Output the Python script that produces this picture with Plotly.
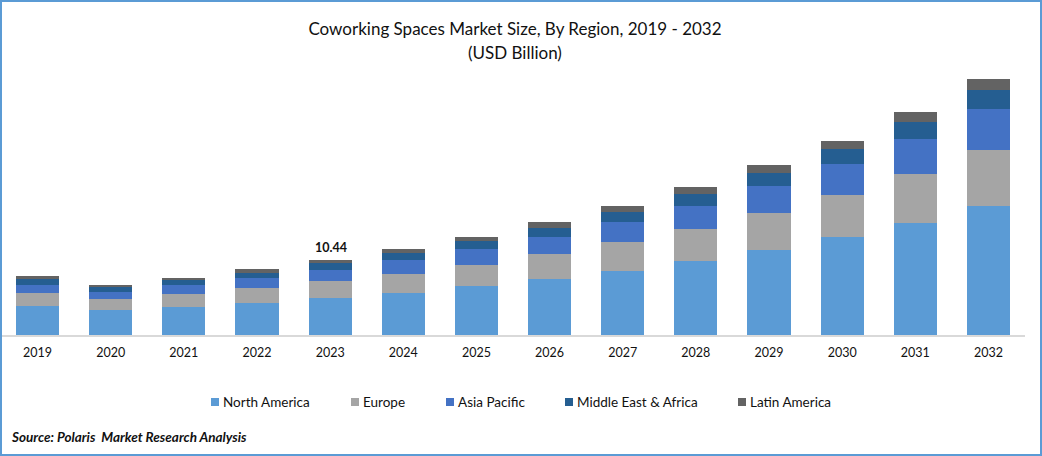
import plotly.graph_objects as go

years = ['2019', '2020', '2021', '2022', '2023', '2024', '2025', '2026', '2027', '2028', '2029', '2030', '2031', '2032']

north_america = [4.04, 3.48, 3.90, 4.45, 5.15, 5.85, 6.82, 7.80, 8.91, 10.30, 11.83, 13.64, 15.59, 17.96]
europe = [1.81, 1.53, 1.81, 2.09, 2.37, 2.64, 2.92, 3.48, 4.04, 4.45, 5.15, 5.85, 6.82, 7.80]
asia_pacific = [1.11, 0.97, 1.25, 1.39, 1.53, 1.95, 2.23, 2.37, 2.78, 3.20, 3.76, 4.32, 4.87, 5.71]
middle_east_africa = [0.84, 0.70, 0.70, 0.70, 0.97, 0.97, 1.11, 1.25, 1.39, 1.67, 1.81, 2.09, 2.37, 2.64]
latin_america = [0.42, 0.28, 0.28, 0.56, 0.42, 0.56, 0.56, 0.84, 0.84, 0.97, 1.11, 1.11, 1.39, 1.53]

series = [
    ('North America', north_america, '#5b9bd5'),
    ('Europe', europe, '#a5a5a5'),
    ('Asia Pacific', asia_pacific, '#4472c4'),
    ('Middle East & Africa', middle_east_africa, '#255e91'),
    ('Latin America', latin_america, '#636363'),
]

W, H = 1042, 456
FONT = 'Lato'
# posicion de cada cuadro de la leyenda (pixeles)
legend_x = [211, 351, 446, 565, 738]

fig = go.Figure()
for name, values, color in series:
    fig.add_trace(go.Bar(x=years, y=values, name=name, marker=dict(color=color, line=dict(width=0))))

# etiqueta de 2023
fig.add_annotation(x=years.index('2023'), y=10.44, text='<b>10.44</b>', showarrow=False, yanchor='bottom', yshift=3, xshift=1,
                   font=dict(family=FONT, size=12.5, color='#111111'))
fig.add_annotation(xref='paper', yref='paper', x=515/W, y=1-53/H, text='(USD Billion)', showarrow=False,
                   xanchor='center', yanchor='middle', font=dict(family=FONT, size=17, color='#111111'))
fig.add_annotation(xref='paper', yref='paper', x=9/W, y=1-437/H, text='<b><i>Source: Polaris  Market Research Analysis</i></b>',
                   showarrow=False, xanchor='left', yanchor='middle', font=dict(family=FONT, size=13.5, color='#111111'))

# leyenda hecha a mano para respetar las separaciones
for (name, values, color), lx in zip(series, legend_x):
    fig.add_shape(type='rect', xref='paper', yref='paper', x0=lx/W, x1=(lx+8)/W, y0=1-406/H, y1=1-398/H,
                  fillcolor=color, line=dict(width=0))
    fig.add_annotation(xref='paper', yref='paper', x=(lx+10)/W, y=1-402/H, text=name, showarrow=False,
                       xanchor='left', yanchor='middle', font=dict(family=FONT, size=13.5, color='#111111'))

# marco azul
fig.add_shape(type='rect', xref='paper', yref='paper', x0=0, y0=0, x1=1, y1=1, line=dict(color='#5b9bd5', width=4), layer='above')

fig.update_layout(
    width=W, height=H, barmode='stack', bargap=0.41,
    margin=dict(l=0, r=0, t=0, b=0),
    paper_bgcolor='white', plot_bgcolor='white',
    showlegend=False,
    font=dict(family=FONT, size=13, color='#111111'),
    title=dict(text='Coworking Spaces Market Size, By Region, 2019 - 2032', x=515/W, xanchor='center',
               y=1-29/H, yanchor='middle', font=dict(family=FONT, size=17, color='#111111')),
    xaxis=dict(domain=[1/W, 1025/W], type='category', range=[-0.5, 13.5], automargin=False, showgrid=False, linecolor='#d9d9d9', linewidth=2,
               ticks='outside', ticklen=5, tickcolor='rgba(0,0,0,0)', tickfont=dict(family=FONT, size=12.5, color='#111111')),
    yaxis=dict(domain=[121/H, 386/H], range=[0, 36.89], visible=False, automargin=False),
)

fig.write_html('out.html', config={'displayModeBar': False}, post_script="document.body.style.margin='0';")
